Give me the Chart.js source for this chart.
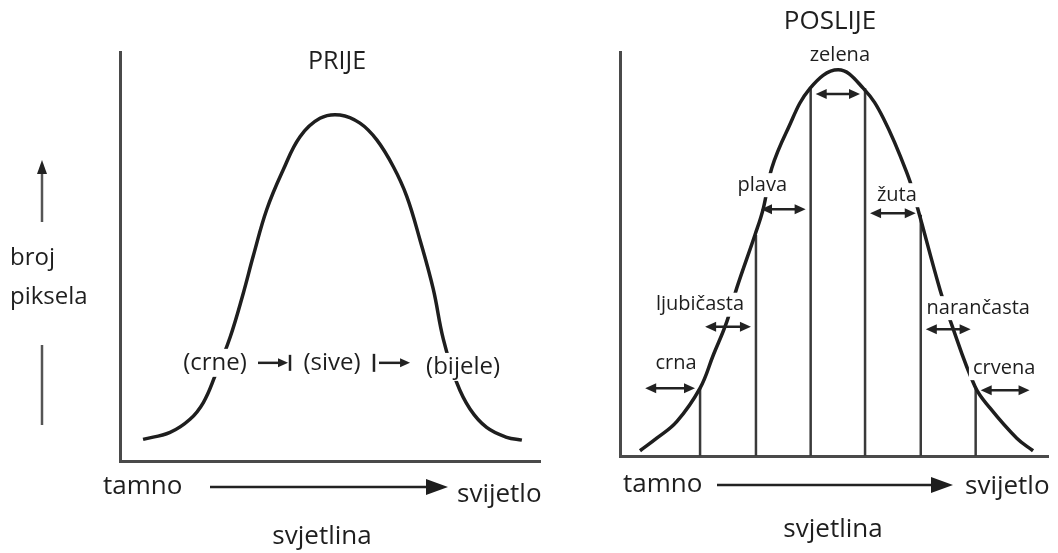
<!DOCTYPE html>
<html>
<head>
<meta charset="utf-8">
<script src="https://cdn.jsdelivr.net/npm/chart.js@4.4.0/dist/chart.umd.min.js"></script>
<style>
    html, body { margin: 0; padding: 0; background: #fff; }
    #wrap { position: relative; width: 1058px; height: 553px; }
    canvas { position: absolute; top: 0; }
    #prijeChart { left: 0; }
    #poslijeChart { left: 560px; }
</style>
</head>
<body>
<div id="wrap">
    <canvas id="prijeChart" width="560" height="553"></canvas>
    <canvas id="poslijeChart" width="498" height="553"></canvas>
</div>
<script>
// PRIJE: svjetlina (0-255) i broj piksela (0-100)
var svjetlinaPrije = [14, 30.4, 42.5, 50.6, 57.7, 66.8, 74.9, 80.9, 89.1, 99.1, 109.3, 121.4, 133.6, 145.7, 155.9, 165.9, 174.1, 182.1, 190.2, 196.3, 204.4, 212.5, 222.6, 234.8, 244];
var pikseliPrije = [5.3, 7.0, 10.2, 14.3, 20.8, 30.2, 41.1, 50.1, 61.5, 71.2, 79.3, 83.8, 84.6, 82.6, 78.5, 72.0, 64.7, 54.1, 42.0, 29.8, 19.2, 12.7, 8.2, 5.8, 5.1];
var oznakePrije = ['(crne)', '(sive)', '(bijele)'];
var sredinaOznakaPrije = [57.7, 128.7, 208.3];

// POSLIJE
var svjetlinaPoslije = [11.9, 21.9, 33.8, 47.7, 55.6, 63.6, 69.5, 80.4, 85.4, 90.4, 99.3, 113.2, 130, 145.0, 156.9, 171.8, 177.2, 190.7, 196.6, 211.5, 220.4, 236.4, 246.1];
var pikseliPoslije = [1.3, 4.4, 8.5, 16.8, 25.0, 33.2, 41.5, 54.7, 61.3, 71.2, 80.3, 91.0, 95.6, 91.0, 83.6, 69.1, 61.5, 41.1, 33.7, 17.2, 11.9, 4.4, 1.3];
var granice = [47.7, 81.0, 113.6, 146.0, 179.2, 211.9];
var visineGranica = [16.8, 54.7, 91.0, 91.0, 59.7, 17.2];
var bojePoslije = ['crna', 'ljubičasta', 'plava', 'zelena', 'žuta', 'narančasta', 'crvena'];

var FONT = "'Open Sans', 'DejaVu Sans', sans-serif";
var TEKST = '#1e1e1e';

function tocke(xs, ys) {
    return xs.map(function (x, i) { return { x: x, y: ys[i] }; });
}

function vrh(ctx, x, y, dx, dy, duz, pola) {
    // dx, dy - smjer strelice
    ctx.beginPath();
    ctx.moveTo(x, y);
    ctx.lineTo(x - dx * duz - dy * pola, y - dy * duz + dx * pola);
    ctx.lineTo(x - dx * duz + dy * pola, y - dy * duz - dx * pola);
    ctx.closePath();
    ctx.fill();
}

function crta(ctx, x1, y1, x2, y2) {
    ctx.beginPath();
    ctx.moveTo(x1, y1);
    ctx.lineTo(x2, y2);
    ctx.stroke();
}

function tekstSPozadinom(ctx, tekst, x, y, h) {
    var w = ctx.measureText(tekst).width;
    ctx.fillStyle = '#fff';
    ctx.fillRect(x - w / 2 - 4, y - h / 2, w + 8, h);
    ctx.fillStyle = TEKST;
    ctx.fillText(tekst, x, y);
}

function osi(ctx, area, o) {
    // tamno -> svijetlo, svjetlina
    ctx.save();
    ctx.fillStyle = TEKST;
    ctx.strokeStyle = '#222';
    ctx.font = '26px ' + FONT;
    ctx.textBaseline = 'middle';
    ctx.textAlign = 'left';
    ctx.fillText('tamno', area.left + o.tamno, area.bottom + o.red);
    ctx.fillText('svijetlo', area.left + o.svijetlo, area.bottom + o.red + o.pomak);
    ctx.lineWidth = 2.5;
    crta(ctx, area.left + o.od, area.bottom + o.red, area.left + o.do - 18, area.bottom + o.red);
    vrh(ctx, area.left + o.do, area.bottom + o.red, 1, 0, 22, 8);
    ctx.textAlign = 'center';
    ctx.fillText('svjetlina', area.left + o.sredina, area.bottom + o.red2);
    ctx.restore();
}

function skala() {
    return {
        type: 'linear',
        grid: { display: false, drawTicks: false },
        ticks: { display: false },
        border: { display: true, color: '#4a4a4a', width: 3 }
    };
}

// PRIJE
var prijeOznake = {
    id: 'prijeOznake',
    afterDatasetsDraw: function (chart) {
        var ctx = chart.ctx, xs = chart.scales.x, ys = chart.scales.y, area = chart.chartArea;
        ctx.save();
        ctx.font = '24px ' + FONT;
        ctx.textAlign = 'center';
        ctx.textBaseline = 'middle';
        var yy = [24, 24, 23];
        oznakePrije.forEach(function (t, i) {
            tekstSPozadinom(ctx, t, xs.getPixelForValue(sredinaOznakaPrije[i]), ys.getPixelForValue(yy[i]), 28);
        });
        // strelice izmedju oznaka
        ctx.strokeStyle = '#222';
        ctx.fillStyle = '#222';
        ctx.lineWidth = 2.5;
        var y1 = ys.getPixelForValue(24);
        var a1 = xs.getPixelForValue(83.8), b1 = xs.getPixelForValue(102);
        crta(ctx, a1, y1, b1 - 6, y1);
        vrh(ctx, b1, y1, 1, 0, 10, 4.5);
        crta(ctx, b1 + 2, y1 - 8, b1 + 2, y1 + 8);
        var a2 = xs.getPixelForValue(154.2), b2 = xs.getPixelForValue(176.1);
        crta(ctx, a2, y1 - 9, a2, y1 + 9);
        crta(ctx, a2 + 5, y1, b2 - 6, y1);
        vrh(ctx, b2, y1, 1, 0, 10, 4.5);

        // naslov
        ctx.font = '25px ' + FONT;
        ctx.fillStyle = TEKST;
        ctx.fillText('PRIJE', 337, area.top + 10);

        // broj piksela
        ctx.textAlign = 'left';
        ctx.font = '24px ' + FONT;
        ctx.fillText('broj', 10, 258);
        ctx.fillText('piksela', 10, 297);
        ctx.strokeStyle = '#555';
        ctx.fillStyle = '#222';
        ctx.lineWidth = 2.5;
        crta(ctx, 42, 222, 42, 172);
        vrh(ctx, 42, 160, 0, -1, 14, 5);
        crta(ctx, 42, 345, 42, 425);
        ctx.restore();

        osi(ctx, area, { tamno: -17, svijetlo: 337, od: 90, do: 328, sredina: 202, red: 26, pomak: 8, red2: 76 });
    }
};

var prijeChart = new Chart(document.getElementById('prijeChart').getContext('2d'), {
    type: 'scatter',
    data: {
        datasets: [{
            label: 'PRIJE',
            data: tocke(svjetlinaPrije, pikseliPrije),
            showLine: true,
            borderColor: '#1e1e1e',
            borderWidth: 3.5,
            pointRadius: 0,
            tension: 0.4
        }]
    },
    options: {
        responsive: false,
        animation: false,
        layout: { padding: { left: 120, right: 20, top: 52, bottom: 92 } },
        scales: {
            x: Object.assign(skala(), { min: 0, max: 255 }),
            y: Object.assign(skala(), { min: 0, max: 100 })
        },
        plugins: { legend: { display: false }, tooltip: { enabled: false } }
    },
    plugins: [prijeOznake]
});

// POSLIJE
var strelicaVisina = [16.8, 32.0, 61.1, 89.6, 60.1, 31.4, 16.3];
var oznakaDx = [6, -28, -21, 2, 4, 30, -1];
var oznakaDy = [-25, -22, -24, -39, -18, -21, -22];

var poslijeOznake = {
    id: 'poslijeOznake',
    afterDatasetsDraw: function (chart) {
        var ctx = chart.ctx, xs = chart.scales.x, ys = chart.scales.y, area = chart.chartArea;
        ctx.save();
        ctx.font = '20px ' + FONT;
        ctx.textAlign = 'center';
        ctx.textBaseline = 'middle';
        ctx.lineWidth = 2.5;
        bojePoslije.forEach(function (t, i) {
            var od = i === 0 ? 15 : granice[i - 1] + 3;
            var dok = i === granice.length ? 244 : granice[i] - 3;
            var a = xs.getPixelForValue(od), b = xs.getPixelForValue(dok);
            var y = ys.getPixelForValue(strelicaVisina[i]);
            tekstSPozadinom(ctx, t, (a + b) / 2 + oznakaDx[i], y + oznakaDy[i], 24);
            ctx.strokeStyle = '#222';
            ctx.fillStyle = '#222';
            crta(ctx, a + 6, y, b - 6, y);
            vrh(ctx, b, y, 1, 0, 11, 5);
            vrh(ctx, a, y, -1, 0, 11, 5);
        });

        ctx.font = '26px ' + FONT;
        ctx.fillStyle = TEKST;
        ctx.fillText('POSLIJE', 270, 22);
        ctx.restore();

        osi(ctx, area, { tamno: 3, svijetlo: 345, od: 97, do: 333, sredina: 213, red: 29, pomak: 2, red2: 74 });
    }
};

var datasetsPoslije = [{
    label: 'POSLIJE',
    data: tocke(svjetlinaPoslije, pikseliPoslije),
    showLine: true,
    borderColor: '#1e1e1e',
    borderWidth: 3.5,
    pointRadius: 0,
    tension: 0.4
}];
granice.forEach(function (g, i) {
    datasetsPoslije.push({
        label: 'granica ' + (i + 1),
        data: [{ x: g, y: 0 }, { x: g, y: visineGranica[i] }],
        showLine: true,
        borderColor: '#3a3a3a',
        borderWidth: 2.5,
        pointRadius: 0
    });
});

var poslijeChart = new Chart(document.getElementById('poslijeChart').getContext('2d'), {
    type: 'scatter',
    data: { datasets: datasetsPoslije },
    options: {
        responsive: false,
        animation: false,
        layout: { padding: { left: 60, right: 10, top: 52, bottom: 97 } },
        scales: {
            x: Object.assign(skala(), { min: 0, max: 255 }),
            y: Object.assign(skala(), { min: 0, max: 100 })
        },
        plugins: { legend: { display: false }, tooltip: { enabled: false } }
    },
    plugins: [poslijeOznake]
});
</script>
</body>
</html>
